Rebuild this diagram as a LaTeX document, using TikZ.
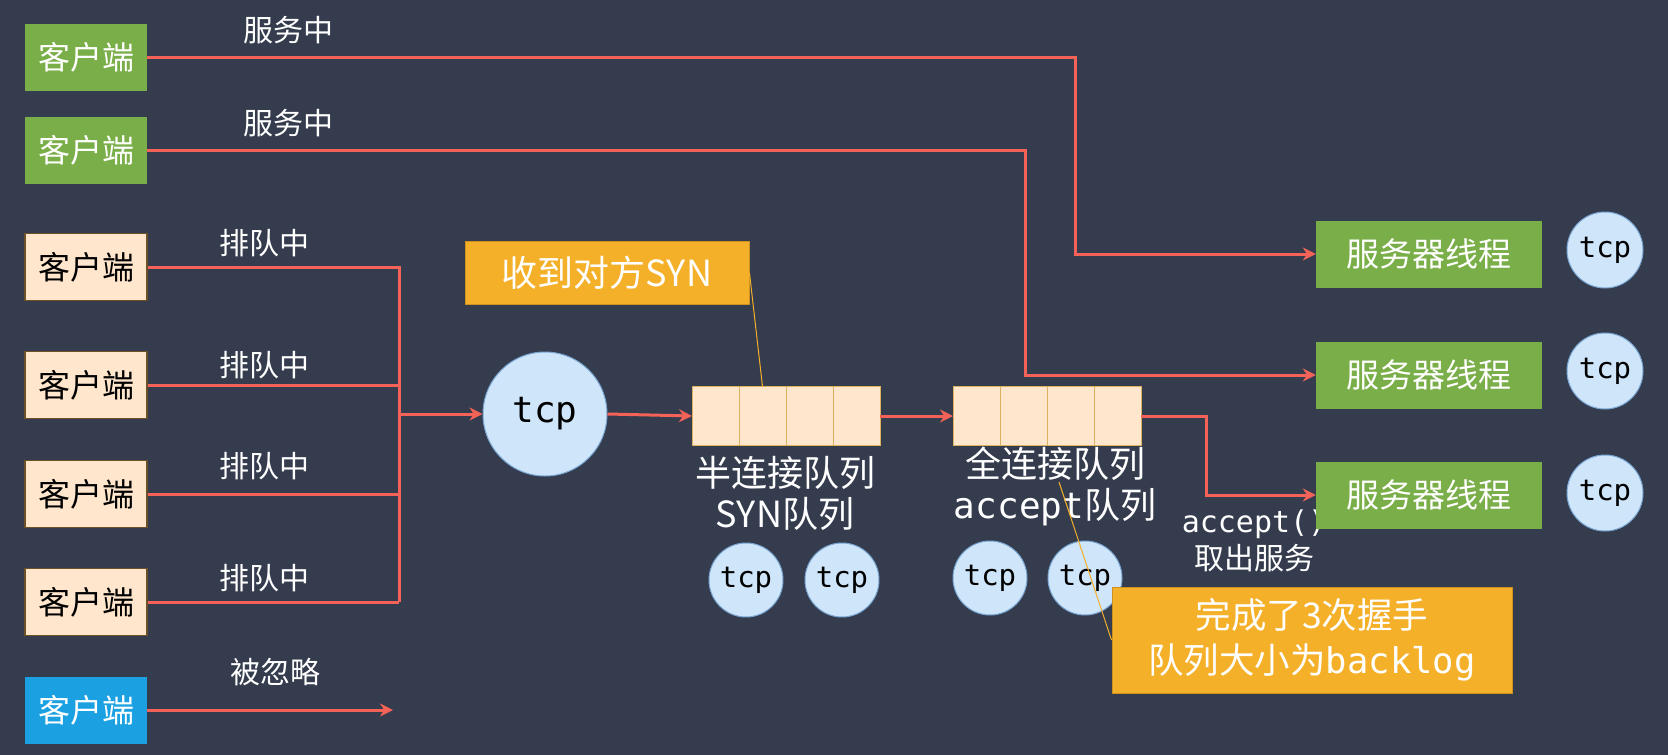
\documentclass[tikz,border=0pt]{standalone}
\usepackage{fontspec}
\setmainfont{Noto Sans CJK SC}
\newfontfamily\mono{DejaVu Sans Mono}
\usetikzlibrary{arrows.meta,positioning}
\definecolor{slate}{RGB}{52,60,78}
\definecolor{leafgreen}{RGB}{122,174,72}
\definecolor{peach}{RGB}{255,230,204}
\definecolor{peachline}{RGB}{110,80,40}
\definecolor{skyblue}{RGB}{27,161,226}
\definecolor{ballblue}{RGB}{206,229,250}
\definecolor{ballline}{RGB}{120,165,210}
\definecolor{amber}{RGB}{245,176,42}
\definecolor{amberline}{RGB}{205,145,30}
\definecolor{linkred}{RGB}{244,98,88}

\tikzset{
  box/.style={minimum width=122pt,minimum height=67pt,inner sep=0pt,font=\fontsize{32}{36}\selectfont},
  client/.style={box,fill=leafgreen,text=white},
  waiting/.style={box,fill=peach,draw=peachline,line width=1.2pt,text=black},
  dropped/.style={box,fill=skyblue,text=white},
  server/.style={fill=leafgreen,text=white,minimum width=226pt,minimum height=67pt,inner sep=0pt,font=\fontsize{33}{38}\selectfont},
  ball/.style={circle,fill=ballblue,draw=ballline,line width=1pt,inner sep=0pt,text=black},
  smallball/.style={ball,minimum size=74pt,font=\mono\fontsize{29}{34}\selectfont},
  cell/.style={fill=peach,draw=amberline!70,line width=1pt,inner sep=0pt,outer sep=0pt,minimum width=47pt,minimum height=59pt},
  note/.style={fill=amber,draw=amberline,line width=1pt,text=white,inner sep=0pt},
  tag/.style={text=white,font=\fontsize{30}{34}\selectfont},
  qlabel/.style={text=white,align=center,font=\fontsize{36}{41}\selectfont},
  link/.style={draw=linkred,line width=3pt},
  pointer/.style={draw=amber,line width=1pt}
}

\begin{document}
\begin{tikzpicture}[x=1pt,y=-1pt,>={Stealth[length=13pt,width=13pt]}]
  \fill[slate] (0,0) rectangle (1668,755);

  % clients
  \node[client] (c1) at (86,57) {客户端};
  \node[client] (c2) at (86,150) {客户端};
  \node[waiting] (c3) at (86,267) {客户端};
  \node[waiting] (c4) at (86,385) {客户端};
  \node[waiting] (c5) at (86,494) {客户端};
  \node[waiting] (c6) at (86,602) {客户端};
  \node[dropped] (c7) at (86,710) {客户端};

  \node[tag] (l1) at (288,30) {服务中};
  \node[tag] (l2) at (288,123) {服务中};
  \node[tag] (l3) at (264,243) {排队中};
  \node[tag] (l4) at (264,365) {排队中};
  \node[tag] (l5) at (264,466) {排队中};
  \node[tag] (l6) at (264,578) {排队中};
  \node[tag] (l7) at (275,672) {被忽略};

  % listening socket
  \node[ball,minimum size=124pt,font=\mono\fontsize{36}{40}\selectfont] (tcp) at (545,414) {tcp};

  % half-open queue
  \node[cell] (s1) at (715.5,416) {};
  \foreach \i [count=\j from 2] in {1,2,3}
    \node[cell,right=0pt of s\i] (s\j) {};
  \node[qlabel] (sq) at (785,493) {半连接队列\\SYN队列};
  \node[smallball] (t1) at (746,580) {tcp};
  \node[smallball] (t2) at (842,580) {tcp};

  % accept queue
  \node[cell] (a1) at (976.5,416) {};
  \foreach \i [count=\j from 2] in {1,2,3}
    \node[cell,right=0pt of a\i] (a\j) {};
  \node[qlabel] (aq) at (1055,486) {全连接队列\\{\mono accept}队列};
  \node[smallball] (t3) at (990,578) {tcp};
  \node[smallball] (t4) at (1085,578) {tcp};

  % notes
  \node[note,minimum width=284pt,minimum height=63pt,font=\fontsize{36}{40}\selectfont] (n1) at (607,273) {收到对方SYN};
  \node[note,minimum width=400pt,minimum height=106pt,align=center,font=\fontsize{35.5}{45}\selectfont] (n2) at (1312,640) {完成了3次握手\\队列大小为{\mono backlog}};
  \draw[pointer] (n1.east) -- (s2.north);
  \coordinate (p2) at (1059,482);
  \draw[pointer] (p2) -- (n2.west);

  \node[text=white,align=center,font=\fontsize{30}{37}\selectfont] (take) at (1254,541) {{\mono accept()}\\取出服务};

  % worker threads
  \node[server] (sv1) at (1429,254) {服务器线程};
  \node[server] (sv2) at (1429,375) {服务器线程};
  \node[server] (sv3) at (1429,495) {服务器线程};
  \node[ball,minimum size=76pt,font=\mono\fontsize{29}{34}\selectfont] (r1) at (1605,250) {tcp};
  \node[ball,minimum size=76pt,font=\mono\fontsize{29}{34}\selectfont] (r2) at (1605,371) {tcp};
  \node[ball,minimum size=76pt,font=\mono\fontsize{29}{34}\selectfont] (r3) at (1605,493) {tcp};

  % connectors
  \coordinate (k1) at (1075,57);
  \coordinate (k2) at (1025,150);
  \coordinate (k3) at (1206,495);
  \coordinate (bus) at (399,602);
  \coordinate (drop) at (393,710);
  \draw[link,->] (c1.east) -- (k1) |- (sv1.west);
  \draw[link,->] (c2.east) -- (k2) |- (sv2.west);
  \draw[link] (c3.east) -| (bus);
  \foreach \c in {c4,c5,c6}
    \draw[link] (\c.east) -- (\c.east -| bus);
  \draw[link,->] (tcp.west -| bus) -- (tcp.west);
  \draw[link,->] (c7.east) -- (drop);
  \draw[link,->] (tcp.east) -- (s1.west);
  \draw[link,->] (s4.east) -- (a1.west);
  \draw[link,->] (a4.east) -| (k3) -- (sv3.west);
\end{tikzpicture}
\end{document}
